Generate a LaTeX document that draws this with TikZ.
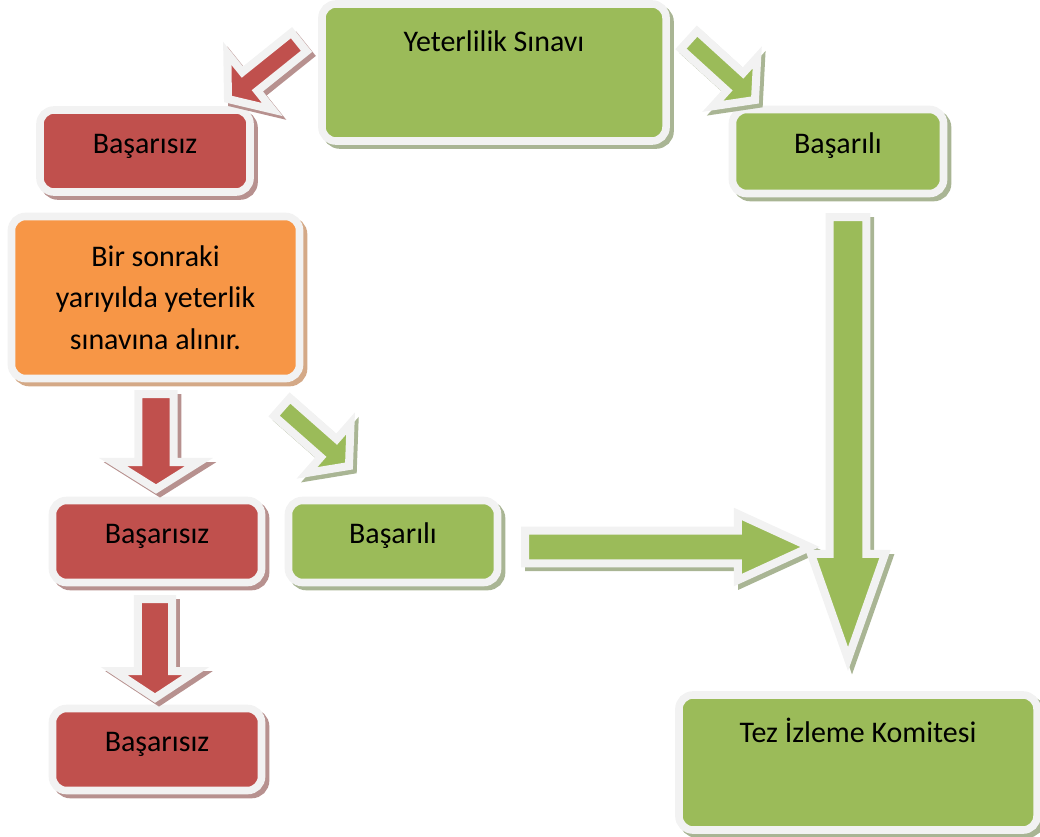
\documentclass[tikz,border=0pt]{standalone}
\usepackage{fontspec}
\setmainfont{Carlito}
\usetikzlibrary{calc,shadows}

\definecolor{bRed}{HTML}{C0504D}
\definecolor{bGreen}{HTML}{9BBB59}
\definecolor{bOrange}{HTML}{F79646}
\definecolor{bWhite}{HTML}{F2F2F2}
\definecolor{shRed}{HTML}{B7918F}
\definecolor{shGreen}{HTML}{A9B594}
\definecolor{shOrange}{HTML}{D4A987}

\tikzset{
  box/.style={rounded corners=0.35cm, draw=bWhite, line width=0.19cm, inner sep=0pt,
    font=\fontsize{21.3}{29.5}\selectfont},
  onerow/.style={text height=0.3cm, text depth=0.2cm},
  boxshadow/.style={drop shadow={shadow xshift=0.1cm, shadow yshift=-0.1cm,
    fill=#1, draw=#1, line width=0.19cm, opacity=1}},
  redbox/.style={box, onerow, fill=bRed, boxshadow=shRed},
  greenbox/.style={box, onerow, fill=bGreen, boxshadow=shGreen},
  topbox/.style={box, fill=bGreen, boxshadow=shGreen},
  orangebox/.style={box, fill=bOrange, boxshadow=shOrange, align=center},
  redarrow/.style={fill=bRed, draw=bWhite, line width=0.2cm, boxshadow=shRed},
  greenarrow/.style={fill=bGreen, draw=bWhite, line width=0.2cm, boxshadow=shGreen},
}

% block arrow: style, tail, tip, shaft half width, head half width, head length
\newcommand{\blockarrow}[6]{%
  \coordinate (ba-base) at ($(#3)!#6!(#2)$);
  \path[#1] ($(#2)!#4!90:(#3)$) -- ($(ba-base)!#4!90:(#3)$) -- ($(ba-base)!#5!90:(#3)$)
    -- (#3) -- ($(ba-base)!#5!-90:(#3)$) -- ($(ba-base)!#4!-90:(#3)$)
    -- ($(#2)!#4!-90:(#3)$) -- cycle;
}

\begin{document}
\begin{tikzpicture}[x=0.025cm, y=-0.025cm]
    \useasboundingbox (0,0) rectangle (1040,836);
    % Boxes
    \node[topbox, minimum width=8.6cm, text height=1.2cm, text depth=2.225cm] (sinav) at (494,72.5) {Yeterlilik Sınavı};
    \node[redbox, minimum width=5.25cm, minimum height=2.05cm] (basarisiz1) at (145,151) {Başarısız};
    \node[greenbox, minimum width=5.275cm, minimum height=2.1cm] (basarili1) at (838,151.5) {Başarılı};
    \node[orangebox, minimum width=7.2cm, minimum height=4.05cm] (tekrar) at (155.5,297.5)
        {Bir sonraki\\yarıyılda yeterlik\\sınavına alınır.};
    \node[redbox, minimum width=5.225cm, minimum height=2.05cm] (basarisiz2) at (157,541.5) {Başarısız};
    \node[greenbox, minimum width=5.225cm, minimum height=2.05cm] (basarili2) at (393,541.5) {Başarılı};
    \node[redbox, minimum width=5.225cm, minimum height=2.05cm] (basarisiz3) at (157,749.5) {Başarısız};
    \node[topbox, minimum width=8.95cm, text height=1.175cm, text depth=2.2cm] (tez) at (858,762.5) {Tez İzleme Komitesi};
    % Arrow ends
    \coordinate (sinavL) at (299,42);   \coordinate (failT) at (228,99);
    \coordinate (sinavR) at (689,40);   \coordinate (passT) at (755,100);
    \coordinate (tekrarR) at (282,407); \coordinate (passM) at (349,466);
    \coordinate (tekrarD) at (156,394); \coordinate (failM) at (156,489);
    \coordinate (failMD) at (155,599);  \coordinate (failB) at (155,698);
    \coordinate (passMR) at (525,547);  \coordinate (tezL) at (810,547);
    \coordinate (passTD) at (848,217);  \coordinate (tezT) at (848,659);
    % Block arrows
    \foreach \sty/\from/\to/\sw/\hw/\hl in {
        redarrow/sinavL/failT/0.3cm/0.9cm/0.7cm,
        greenarrow/sinavR/passT/0.3cm/0.825cm/0.675cm,
        greenarrow/tekrarR/passM/0.3cm/0.825cm/0.675cm,
        redarrow/tekrarD/failM/0.44cm/1.075cm/0.675cm,
        redarrow/failMD/failB/0.425cm/1.025cm/0.675cm,
        greenarrow/passMR/tezL/0.41cm/0.825cm/1.8cm,
        greenarrow/passTD/tezT/0.46cm/0.925cm/2.625cm}
        \blockarrow{\sty}{\from}{\to}{\sw}{\hw}{\hl};
\end{tikzpicture}
\end{document}
